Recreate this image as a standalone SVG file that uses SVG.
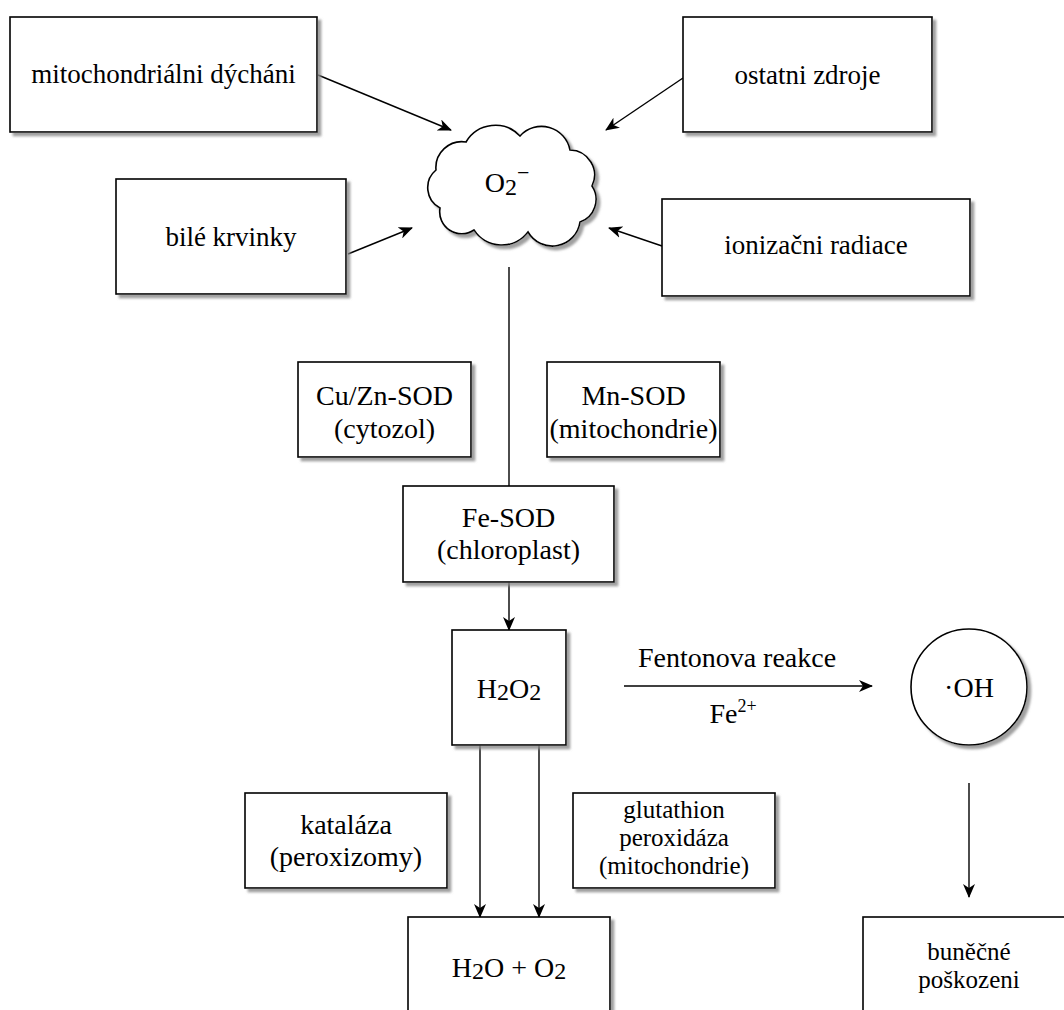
<svg xmlns="http://www.w3.org/2000/svg" width="1064" height="1010" viewBox="0 0 1064 1010">
<defs>
<style>
.box{fill:#fff;stroke:#000;stroke-width:1.6;filter:url(#sh)}
.t{font-family:"Liberation Serif","Times New Roman","DejaVu Serif",serif;font-size:28px;fill:#000;text-anchor:middle}
.t27{font-size:27px}
.t26{font-size:25px}
.ln{stroke:#000;stroke-width:1.4;fill:none}
.ar{marker-end:url(#ah)}
</style>
<filter id="sh" x="-10%" y="-10%" width="130%" height="130%">
<feDropShadow dx="3.5" dy="3.5" stdDeviation="1.2" flood-color="#888" flood-opacity="0.8"/>
</filter>
<marker id="ah" markerWidth="14" markerHeight="12" refX="13" refY="6" orient="auto" markerUnits="userSpaceOnUse">
<path d="M0,0 L14,6 L0,12 L4,6 Z" fill="#000"/>
</marker>
</defs>

<g id="connectors">
<line class="ln ar" x1="318" y1="75" x2="451" y2="130"/>
<line class="ln ar" x1="348" y1="254" x2="412" y2="228"/>
<line class="ln ar" x1="683" y1="78" x2="606" y2="130"/>
<line class="ln ar" x1="662" y1="246" x2="609" y2="228"/>
<line class="ln" x1="509" y1="267" x2="509" y2="486"/>
<line class="ln ar" x1="509" y1="582" x2="509" y2="630"/>
<line class="ln ar" x1="624" y1="686" x2="872" y2="686"/>
<line class="ln ar" x1="480" y1="745" x2="480" y2="917"/>
<line class="ln ar" x1="539" y1="745" x2="539" y2="917"/>
<line class="ln ar" x1="969" y1="783" x2="969" y2="897"/>
</g>

<g id="n-mito">
<rect class="box" x="10" y="17" width="307" height="115"/>
<text class="t t27" x="163.5" y="83">mitochondriálni dýcháni</text>
</g>
<g id="n-ostatni">
<rect class="box" x="683" y="17" width="249" height="115"/>
<text class="t t27" x="807.5" y="84">ostatni zdroje</text>
</g>
<g id="n-bile">
<rect class="box" x="116" y="179" width="230" height="115"/>
<text class="t t27" x="231" y="246">bilé krvinky</text>
</g>
<g id="n-ioniz">
<rect class="box" x="662" y="199" width="308" height="97"/>
<text class="t t27" x="816" y="254">ionizačni radiace</text>
</g>
<g id="n-o2">
<path class="box" d="M436,170 A26,26 0 0 1 466,142 A34,34 0 0 1 520,136 A29,29 0 0 1 570,150 A25,25 0 0 1 592,186 A24,24 0 0 1 580,222 A28,28 0 0 1 528,232 A33,33 0 0 1 474,230 A22,22 0 0 1 440,208 A23,23 0 0 1 436,170 Z"/>
<text class="t" x="507" y="192">O<tspan font-size="24" dy="3">2</tspan><tspan dy="-15" font-size="22">−</tspan></text>
</g>
<g id="n-cuzn">
<rect class="box" x="298" y="362" width="173" height="95"/>
<text class="t" x="384.5" y="405">Cu/Zn-SOD</text>
<text class="t" x="384.5" y="438">(cytozol)</text>
</g>
<g id="n-mn">
<rect class="box" x="547" y="362" width="173" height="95"/>
<text class="t" x="633.5" y="405">Mn-SOD</text>
<text class="t" x="633.5" y="438">(mitochondrie)</text>
</g>
<g id="n-fe">
<rect class="box" x="403" y="486" width="211" height="96"/>
<text class="t" x="508.5" y="527">Fe-SOD</text>
<text class="t" x="508.5" y="559">(chloroplast)</text>
</g>
<g id="n-h2o2">
<rect class="box" x="452" y="630" width="114" height="115"/>
<text class="t" x="509" y="698">H<tspan font-size="24" dy="2">2</tspan><tspan dy="-2">O</tspan><tspan font-size="24" dy="2">2</tspan></text>
</g>
<g id="lbl-fenton">
<text class="t" x="737" y="667">Fentonova reakce</text>
<text class="t" x="733" y="723">Fe<tspan font-size="18" dy="-11">2+</tspan></text>
</g>
<g id="n-oh">
<circle class="box" cx="969" cy="687" r="58"/>
<text class="t" x="969" y="697">·OH</text>
</g>
<g id="n-katalaza">
<rect class="box" x="245" y="793" width="202" height="95"/>
<text class="t" x="346" y="834">kataláza</text>
<text class="t" x="346" y="866">(peroxizomy)</text>
</g>
<g id="n-glut">
<rect class="box" x="573" y="793" width="202" height="95"/>
<text class="t t26" x="674" y="818">glutathion</text>
<text class="t t26" x="674" y="846">peroxidáza</text>
<text class="t t26" x="674" y="874">(mitochondrie)</text>
</g>
<g id="n-h2o">
<rect class="box" x="408" y="917" width="202" height="110"/>
<text class="t" x="509" y="977">H<tspan font-size="24" dy="2">2</tspan><tspan dy="-2">O + O</tspan><tspan font-size="24" dy="2">2</tspan></text>
</g>
<g id="n-bunecne">
<rect class="box" x="863" y="917" width="214" height="110"/>
<text class="t t26" x="969" y="960">buněčné</text>
<text class="t t26" x="969" y="988">poškozeni</text>
</g>
</svg>
